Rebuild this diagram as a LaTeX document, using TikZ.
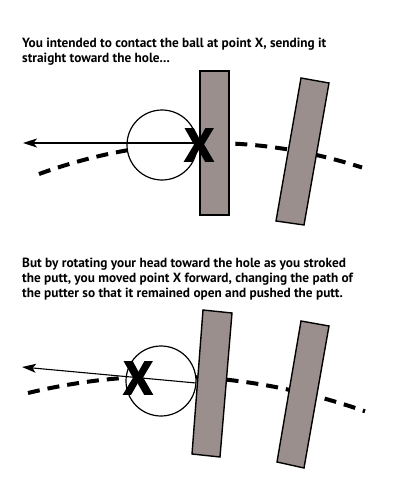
\documentclass[tikz,border=0pt]{standalone}
\usepackage{fontspec}
\setmainfont{PT Sans}
\newfontfamily\bigxfont[FakeBold=3]{PT Sans Bold}
\usetikzlibrary{arrows.meta}
\definecolor{puttergray}{RGB}{155,143,141}
\begin{document}
\begin{tikzpicture}[x=1pt,y=-1pt,
  caption/.style={anchor=base west,inner sep=0pt,font=\fontsize{13.3}{15}\selectfont\bfseries},
  ball/.style={circle,draw=black,line width=1.2pt,fill=white,minimum size=70pt,inner sep=0pt},
  putter/.style={draw=black,line width=1.4pt,fill=puttergray,line join=miter},
  path/.style={line width=4pt,dash pattern=on 12pt off 8pt},
  aim/.style={line width=1.1pt,-{Stealth[length=14pt,width=9pt,inset=3.5pt]}},
  bigx/.style={inner sep=0pt,font=\bigxfont\fontsize{46}{46}\selectfont}]
\useasboundingbox (0,0) rectangle (400,500);
% ---------- top panel ----------
\node[caption] (t1) at (22,48) {You intended to contact the ball at point X, sending it};
\node[caption] (t2) at (22,63) {straight toward the hole...};
\draw[path] (39,174) .. controls (146.7,135) and (254.3,132.8) .. (362,167.5);
\node[ball] (ballA) at (162,145) {};
\coordinate (sA) at (198,143);
\coordinate (eA) at (23,143);
\draw[aim] (sA) -- (eA);
\draw[putter] (200,71) -- (229,71) -- (229,215) -- (200,215) -- cycle;
\draw[putter] (301,78) -- (329,83) -- (304,225) -- (276,221) -- cycle;
\node[bigx] (xA) at (199,145) {X};
% ---------- bottom panel ----------
\node[caption] (b1) at (22,267.5) {But by rotating your head toward the hole as you stroked};
\node[caption] (b2) at (22,282.5) {the putt, you moved point X forward, changing the path of};
\node[caption] (b3) at (22,297.5) {the putter so that it remained open and pushed the putt.};
\draw[path] (28,393) .. controls (140.3,365.9) and (252.7,372) .. (365,411.3);
\node[ball] (ballB) at (161,381) {};
\coordinate (sB) at (196,383);
\coordinate (eB) at (22,367);
\draw[aim] (sB) -- (eB);
\draw[putter] (203,310) -- (232,313) -- (220,457) -- (192,454) -- cycle;
\draw[putter] (301,321) -- (329,326) -- (304,468) -- (277,462) -- cycle;
\node[bigx] (xB) at (138,378) {X};
\end{tikzpicture}
\end{document}
